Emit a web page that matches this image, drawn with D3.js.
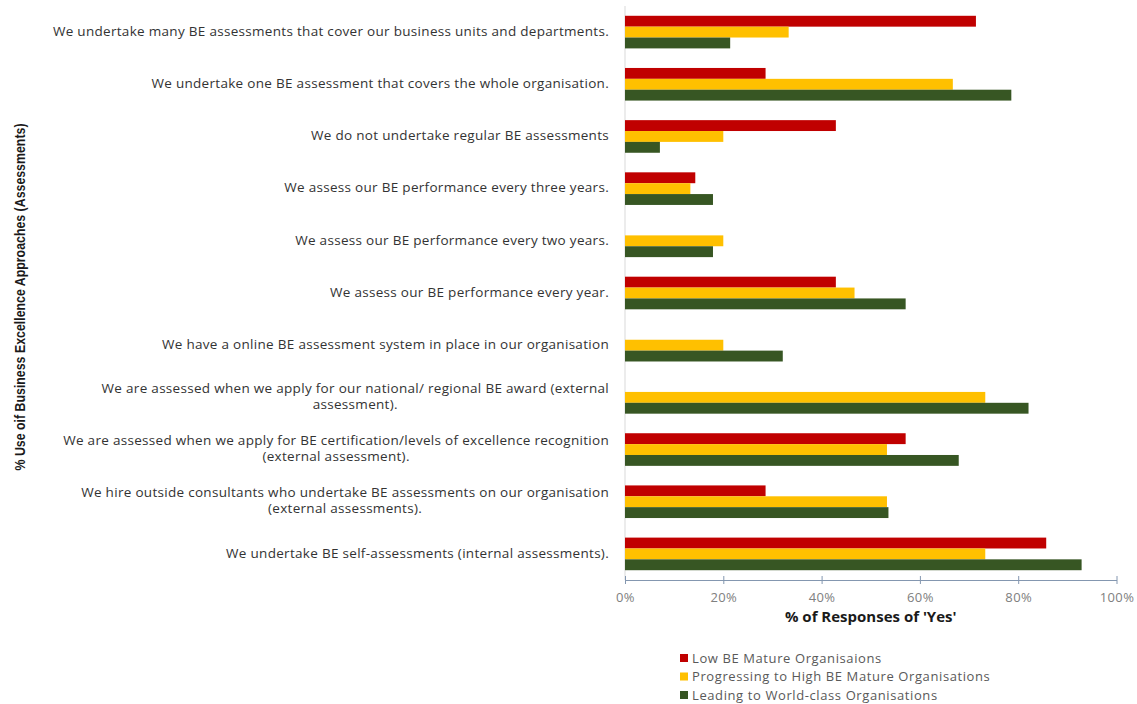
<!DOCTYPE html>
<html>
<head>
<meta charset="utf-8">
<script src="https://cdn.jsdelivr.net/npm/d3@7"></script>
<style>
  html, body { margin: 0; padding: 0; background: #fff; }
  svg { display: block; }
</style>
</head>
<body>
<svg id="chart" width="1137" height="704"></svg>
<script>
// Survey statements (top to bottom); "\n" marks a wrapped line
const categories = [
  "We undertake many BE assessments that cover our business units and departments.",
  "We undertake one BE assessment that covers the whole organisation.",
  "We do not undertake regular BE assessments",
  "We assess our BE performance every three years.",
  "We assess our BE performance every two years.",
  "We assess our BE performance every year.",
  "We have a online BE assessment system in place in our organisation",
  "We are assessed when we apply for our national/ regional BE award (external\nassessment).",
  "We are assessed when we apply for BE certification/levels of excellence recognition\n(external assessment).",
  "We hire outside consultants who undertake BE assessments on our organisation\n(external assessments).",
  "We undertake BE self-assessments (internal assessments)."
];

const seriesNames = [
  "Low BE Mature Organisaions",
  "Progressing to High BE Mature Organisations",
  "Leading to World-class Organisations"
];

// % of 'Yes' responses per statement
const lowMature = [71.4, 28.6, 42.9, 14.3, 0, 42.9, 0, 0, 57.1, 28.6, 85.7];
const progressing = [33.3, 66.7, 20.0, 13.3, 20.0, 46.7, 20.0, 73.3, 53.3, 53.3, 73.3];
const worldClass = [21.4, 78.6, 7.1, 17.9, 17.9, 57.1, 32.1, 82.1, 67.9, 53.6, 92.9];

const xTicks = [0, 20, 40, 60, 80, 100];
const colors = ["#c00000", "#ffc000", "#375623"];

const seriesValues = [lowMature, progressing, worldClass];

const svg = d3.select("#chart");
const font = "'Open Sans', 'DejaVu Sans', sans-serif";

const x = d3.scaleLinear().domain([0, 100]).range([625, 1116.5]);
const y = d3.scaleBand().domain(d3.range(categories.length)).range([6, 580]).paddingInner(0.375).paddingOuter(0.1875);
const ySub = d3.scaleBand().domain(d3.range(seriesNames.length)).range([0, y.bandwidth()]);

// vertical category axis line
svg.append("line")
  .attr("x1", x(0)).attr("x2", x(0))
  .attr("y1", y.range()[0]).attr("y2", y.range()[1])
  .attr("stroke", "#d9d9d9").attr("stroke-width", 1);

// bars
const groups = svg.append("g").selectAll("g")
  .data(seriesValues)
  .join("g")
  .attr("fill", (d, i) => colors[i]);

groups.each(function(vals, si) {
  d3.select(this).selectAll("rect")
    .data(vals)
    .join("rect")
    .attr("x", x(0))
    .attr("y", (d, ci) => y(ci) + ySub(si))
    .attr("width", d => x(d) - x(0))
    .attr("height", ySub.bandwidth());
});

// value axis
const xAxis = d3.axisBottom(x)
  .tickValues(xTicks)
  .tickFormat(d => d + "%")
  .tickSizeInner(4)
  .tickSizeOuter(0)
  .tickPadding(9);

const axisG = svg.append("g")
  .attr("transform", `translate(0,${y.range()[1]})`)
  .call(xAxis);
axisG.select(".domain").attr("stroke", "#8497b0");
axisG.selectAll(".tick line").attr("stroke", "#8497b0").attr("y1", -4);
axisG.selectAll(".tick text")
  .attr("fill", "#808080")
  .style("font-family", font)
  .style("font-size", "13px")
  .style("letter-spacing", "0.4px");

// axis titles
svg.append("text")
  .attr("x", (x(0) + x(100)) / 2)
  .attr("y", 622)
  .attr("text-anchor", "middle")
  .style("font-family", "'Open Sans', sans-serif")
  .style("font-weight", "bold")
  .style("font-size", "15px")
  .attr("fill", "#1a1a1a")
  .text("% of Responses of 'Yes'");

svg.append("text")
  .attr("transform", `translate(25,${(y.range()[0] + y.range()[1]) / 2 + 4}) rotate(-90)`)
  .attr("text-anchor", "middle")
  .attr("textLength", 347)
  .attr("lengthAdjust", "spacingAndGlyphs")
  .style("font-family", "'Liberation Sans Narrow', 'Liberation Sans', sans-serif")
  .style("font-weight", "bold")
  .style("font-size", "14px")
  .attr("fill", "#1a1a1a")
  .text("% Use oif Business Excellence Approaches (Assessments)");

// category labels: wrapped lines centred on each other, block right-aligned to the axis
const labelRight = 609;
const lineH = 16;
const labels = svg.append("g")
  .style("font-family", font)
  .style("font-size", "13.5px")
  .style("letter-spacing", "0.3px")
  .attr("fill", "#333");

categories.forEach((c, i) => {
  const lines = c.split("\n");
  const t = labels.append("text").attr("text-anchor", "middle");
  const cy = y(i) + y.bandwidth() / 2;
  const y0 = cy - (lines.length - 1) * lineH / 2 - 1;
  const spans = lines.map((ln, k) =>
    t.append("tspan").attr("y", y0 + k * lineH).attr("dy", "0.35em").text(ln));
  const maxW = d3.max(spans, s => s.node().getComputedTextLength());
  spans.forEach(s => s.attr("x", labelRight - maxW / 2));
});

// legend
const legend = svg.append("g")
  .style("font-family", font)
  .style("font-size", "13px")
  .style("letter-spacing", "0.6px");
seriesNames.forEach((name, i) => {
  const ly = 658 + i * 18.5;
  legend.append("rect")
    .attr("x", 680).attr("y", ly - 4)
    .attr("width", 8).attr("height", 8)
    .attr("fill", colors[i]);
  legend.append("text")
    .attr("x", 692).attr("y", ly)
    .attr("dy", "0.35em")
    .attr("fill", "#595959")
    .text(name);
});
</script>
</body>
</html>
